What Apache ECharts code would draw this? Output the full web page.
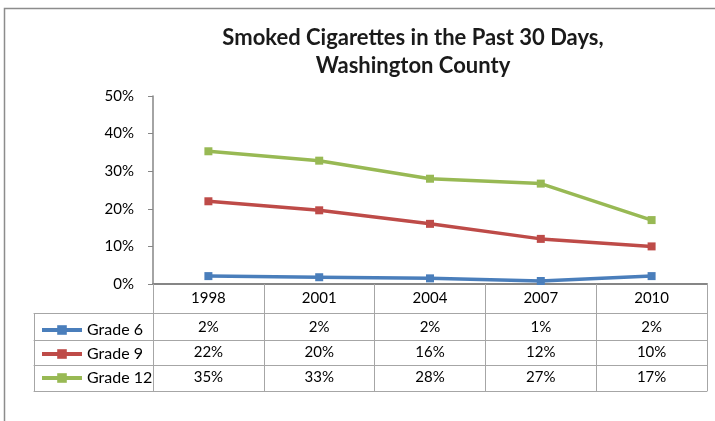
<!DOCTYPE html>
<html>
<head>
<meta charset="utf-8">
<script src="https://cdn.jsdelivr.net/npm/echarts@6/dist/echarts.min.js"></script>
<style>html,body{margin:0;padding:0;background:#fff}#c{width:715px;height:421px}</style>
</head>
<body>
<div id="c"></div>
<script>
const years = ['1998', '2001', '2004', '2007', '2010'];
const seriesNames = ['Grade 6', 'Grade 9', 'Grade 12'];
const grade6 = [2.1, 1.8, 1.5, 0.8, 2.1];
const grade9 = [22.0, 19.6, 16.0, 12.0, 10.0];
const grade12 = [35.3, 32.8, 28.0, 26.7, 17.0];
const grade6Labels = ['2%', '2%', '2%', '1%', '2%'];
const grade9Labels = ['22%', '20%', '16%', '12%', '10%'];
const grade12Labels = ['35%', '33%', '28%', '27%', '17%'];
const yMin = 0, yMax = 50, yStep = 10;
const colors = ['#4a7ebb', '#be4b48', '#98b954'];

const FONT = 'Lato';
const FS = 15;
const tableLine = '#a6a6a6';
const axisLine = '#868686';

function tableAxis(gridIndex, data, offset, tickLen, labels, margin) {
  return {
    type: 'category', gridIndex, data, position: 'bottom', offset,
    boundaryGap: true,
    axisLine: { show: true, onZero: false, lineStyle: { color: tableLine, width: 1 } },
    axisTick: { show: tickLen > 0, interval: 0, length: tickLen, lineStyle: { color: tableLine, width: 1 } },
    axisLabel: labels ? { show: true, interval: 0, margin: margin, fontSize: FS, fontFamily: FONT, color: '#000',
      formatter: (v, i) => labels[i] } : { show: false }
  };
}

const chart = echarts.init(document.getElementById('c'), null, { renderer: 'canvas' });
chart.setOption({
  animation: false,
  backgroundColor: '#fff',
  color: colors,
  title: {
    text: 'Smoked Cigarettes in the Past 30 Days,\nWashington County',
    left: 408, top: 19, textAlign: 'center',
    textStyle: { fontFamily: FONT, fontWeight: 'bold', fontSize: 22, lineHeight: 28, color: '#1a1a1a' }
  },
  graphic: [{
    type: 'rect', shape: { x: 4.5, y: 8.5, width: 800, height: 600 },
    style: { fill: 'none', stroke: '#8c8c8c', lineWidth: 1.5 }, silent: true
  }],
  legend: {
    orient: 'vertical', left: 35, top: 317, itemWidth: 40, itemHeight: 12, itemGap: 8,
    data: seriesNames,
    lineStyle: { width: 4 },
    textStyle: { fontFamily: FONT, fontSize: 16, color: '#000' }
  },
  grid: [
    { left: 153, right: 8, top: 96, bottom: 137 },
    { left: 34, width: 119, top: 96, bottom: 137 }
  ],
  xAxis: [
    {
      type: 'category', gridIndex: 0, data: years, boundaryGap: true,
      axisLine: { show: true, onZero: false, lineStyle: { color: axisLine, width: 2 } },
      axisTick: { show: true, interval: 0, length: 29, lineStyle: { color: tableLine, width: 1 } },
      axisLabel: { interval: 0, margin: 7, fontSize: FS, fontFamily: FONT, color: '#000' }
    },
    tableAxis(0, years, 29, 27, grade6Labels, 7),
    tableAxis(0, years, 56, 25, grade9Labels, 5),
    tableAxis(0, years, 81, 26, grade12Labels, 5),
    tableAxis(0, years, 107, 0, null, 0),
    tableAxis(1, [''], 29, 27, null, 0),
    tableAxis(1, [''], 56, 25, null, 0),
    tableAxis(1, [''], 81, 26, null, 0),
    tableAxis(1, [''], 107, 0, null, 0)
  ],
  yAxis: [
    {
      type: 'value', gridIndex: 0, min: yMin, max: yMax, interval: yStep,
      axisLine: { show: true, lineStyle: { color: axisLine, width: 1.5 } },
      axisTick: { show: true, length: 5, lineStyle: { color: axisLine } },
      splitLine: { show: false },
      axisLabel: { margin: 19, fontSize: FS, fontFamily: FONT, color: '#000', formatter: '{value}%' }
    },
    { type: 'value', gridIndex: 1, show: false, min: 0, max: 1 }
  ],
  series: [
    { name: seriesNames[0], data: grade6 },
    { name: seriesNames[1], data: grade9 },
    { name: seriesNames[2], data: grade12 }
  ].map(s => ({
    type: 'line', name: s.name, data: s.data, xAxisIndex: 0, yAxisIndex: 0,
    symbol: 'rect', symbolSize: 8, lineStyle: { width: 3.5 }
  }))
});
</script>
</body>
</html>
